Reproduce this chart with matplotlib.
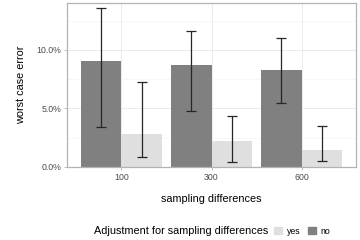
import matplotlib.pyplot as plt
import matplotlib.ticker as mticker
from matplotlib.patches import Patch
import numpy as np

plt.rcParams["font.family"] = ["Liberation Sans", "DejaVu Sans"]

# data (percent)
groups = ["100", "300", "600"]
no_vals = [9.09, 8.72, 8.29]
no_lo = [3.39, 4.79, 5.47]
no_hi = [13.6, 11.65, 11.0]
yes_vals = [2.82, 2.22, 1.45]
yes_lo = [0.88, 0.43, 0.49]
yes_hi = [7.26, 4.36, 3.5]

c_no = "#808080"
c_yes = "#dfdfdf"

fig = plt.figure(figsize=(3.6, 2.4), dpi=100)
ax = fig.add_axes([67 / 360, 1 - 167 / 240, 289 / 360, 164 / 240])

x = np.arange(1, len(groups) + 1)
w = 0.45
ax.bar(x - w / 2, no_vals, width=w, color=c_no, zorder=2)
ax.bar(x + w / 2, yes_vals, width=w, color=c_yes, zorder=2)

err_kw = dict(fmt="none", ecolor="#262626", elinewidth=0.9, capsize=3.5, capthick=0.9, zorder=3)
no_err = [np.array(no_vals) - np.array(no_lo), np.array(no_hi) - np.array(no_vals)]
yes_err = [np.array(yes_vals) - np.array(yes_lo), np.array(yes_hi) - np.array(yes_vals)]
ax.errorbar(x - w / 2, no_vals, yerr=no_err, **err_kw)
ax.errorbar(x + w / 2, yes_vals, yerr=yes_err, **err_kw)

ax.set_xlim(0.4, 3.6)
ax.set_ylim(0, 14.0)
ax.set_xticks(x)
ax.set_xticklabels(groups)
ax.set_yticks([0, 5, 10])
ax.set_yticks([2.5, 7.5, 12.5], minor=True)
ax.yaxis.set_major_formatter(mticker.FuncFormatter(lambda v, p: f"{v:.1f}%"))

ax.grid(True, which="major", color="#ebebeb", linewidth=0.7, zorder=0)
ax.grid(True, which="minor", axis="y", color="#f4f4f4", linewidth=0.5, zorder=0)
ax.set_axisbelow(True)
for s in ax.spines.values():
    s.set_color("#b3b3b3")
    s.set_linewidth(0.9)
ax.tick_params(axis="both", which="major", length=2.5, width=0.6, color="#b3b3b3",
               labelsize=6.3, labelcolor="#4d4d4d", pad=1.5)
ax.tick_params(axis="both", which="minor", length=0)

ax.set_xlabel("sampling differences", fontsize=7.8, labelpad=9)
ax.set_ylabel("worst case error", fontsize=7.8, labelpad=8)

fig.text(268 / 360, 1 - 231 / 240, "Adjustment for sampling differences",
         fontsize=7.8, ha="right", va="center")
handles = [Patch(color=c_yes, label="yes"), Patch(color=c_no, label="no")]
fig.legend(handles=handles, loc="center left", bbox_to_anchor=(274 / 360, 1 - 231 / 240), ncol=2,
           frameon=False, fontsize=6.3, handlelength=0.9, handleheight=0.9,
           handletextpad=0.6, columnspacing=0.8, borderaxespad=0, borderpad=0)

fig.savefig("out.png", dpi=100)
